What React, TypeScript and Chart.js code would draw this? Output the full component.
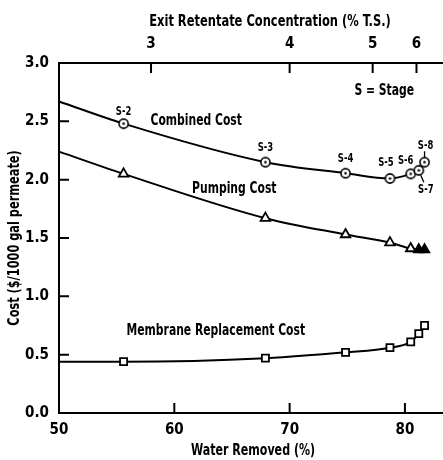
import React, { useEffect, useRef } from 'react';
import { Chart, registerables } from 'chart.js';
Chart.register(...registerables);

// ---- data ----
const waterRemoved = [55.6, 67.9, 74.85, 78.7, 80.5, 81.2, 81.7];
const combinedCost = [2.48, 2.15, 2.055, 2.01, 2.05, 2.08, 2.15];
const pumpingCost = [2.05, 1.67, 1.53, 1.46, 1.41, 1.4, 1.4];
const membraneCost = [0.44, 0.47, 0.52, 0.56, 0.61, 0.68, 0.75];
const stageLabels = ['S-2', 'S-3', 'S-4', 'S-5', 'S-6', 'S-7', 'S-8'];
const pumpingFilled = [false, false, false, false, false, true, true];

// curve values at the left edge (50 % water removed)
const curveStartX = 50;
const combinedStart = 2.67;
const pumpingStart = 2.24;
const membraneStart = 0.44;

const bottomTickValues = [50, 60, 70, 80];
const yTickValues = [0, 0.5, 1.0, 1.5, 2.0, 2.5, 3.0];
const topTickPositions = [57.98, 70.0, 77.2, 81.0]; // in % water removed
const topTickLabels = ['3', '4', '5', '6'];

const xTitle = 'Water Removed (%)';
const x2Title = 'Exit Retentate Concentration (% T.S.)';
const yTitle = 'Cost ($/1000 gal permeate)';

const FONT = '"DejaVu Sans Condensed", "Liberation Sans Narrow", "Liberation Sans", sans-serif';

function circleDot(): HTMLCanvasElement {
  const c = document.createElement('canvas');
  c.width = 13;
  c.height = 13;
  const g = c.getContext('2d')!;
  g.beginPath();
  g.arc(6.5, 6.5, 4.6, 0, Math.PI * 2);
  g.fillStyle = '#fff';
  g.fill();
  g.lineWidth = 1.6;
  g.strokeStyle = '#000';
  g.stroke();
  g.beginPath();
  g.arc(6.5, 6.5, 1.3, 0, Math.PI * 2);
  g.fillStyle = '#000';
  g.fill();
  return c;
}

type Note = { text: string; x: number; y: number; size: number };
const notes: Note[] = [
  { text: 'S = Stage', x: 78.2, y: 2.76, size: 15 },
  { text: 'Combined Cost', x: 61.9, y: 2.5, size: 15 },
  { text: 'Pumping Cost', x: 65.2, y: 1.92, size: 15 },
  { text: 'Membrane Replacement Cost', x: 63.6, y: 0.7, size: 15 },
];
// stage label offsets (in px, relative to the point)
const stageOffsets = [
  [0, -12], [0, -15], [0, -15], [-4, -16], [-5, -13], [7, 19], [1, -17],
];

function drawNarrow(ctx: CanvasRenderingContext2D, text: string, px: number, py: number, sx: number, rot = 0) {
  ctx.save();
  ctx.translate(px, py);
  if (rot) ctx.rotate(rot);
  ctx.scale(sx, 1);
  ctx.fillText(text, 0, 0);
  ctx.restore();
}

const decorPlugin = {
  id: 'decor',
  afterDatasetsDraw(chart: any) {
    const { ctx, scales } = chart;
    const x = scales.x, y = scales.y, x2 = scales.x2;
    const area = chart.chartArea;
    ctx.save();
    ctx.strokeStyle = '#000';
    ctx.lineWidth = 2;
    // inside ticks
    ctx.beginPath();
    yTickValues.forEach((v) => {
      if (v === 0) return;
      const py = y.getPixelForValue(v);
      ctx.moveTo(area.left, py);
      ctx.lineTo(area.left + 10, py);
    });
    bottomTickValues.forEach((v) => {
      if (v === 50) return;
      const px = x.getPixelForValue(v);
      ctx.moveTo(px, area.bottom);
      ctx.lineTo(px, area.bottom - 10);
    });
    topTickPositions.forEach((v) => {
      const px = x2.getPixelForValue(v);
      ctx.moveTo(px, area.top);
      ctx.lineTo(px, area.top + 10);
    });
    ctx.stroke();

    ctx.fillStyle = '#000';
    ctx.textAlign = 'center';
    ctx.textBaseline = 'middle';
    notes.forEach((n) => {
      ctx.font = `bold ${n.size}px ${FONT}`;
      drawNarrow(ctx, n.text, x.getPixelForValue(n.x), y.getPixelForValue(n.y), 0.8);
    });
    // axis titles
    ctx.font = `bold 15px ${FONT}`;
    const cx = (area.left + area.right) / 2;
    drawNarrow(ctx, xTitle, cx + 2, area.bottom + 38, 0.82);
    drawNarrow(ctx, x2Title, cx + 19, area.top - 41, 0.85);
    drawNarrow(ctx, yTitle, 15, (area.top + area.bottom) / 2, 0.84, -Math.PI / 2);

    ctx.font = `bold 13px ${FONT}`;
    stageLabels.forEach((s, i) => {
      const px = x.getPixelForValue(waterRemoved[i]);
      const py = y.getPixelForValue(combinedCost[i]);
      drawNarrow(ctx, s, px + stageOffsets[i][0], py + stageOffsets[i][1], 0.72);
    });
    // leader lines for S-7 and S-8
    ctx.lineWidth = 1.3;
    ctx.beginPath();
    {
      const px = x.getPixelForValue(waterRemoved[6]);
      const py = y.getPixelForValue(combinedCost[6]);
      ctx.moveTo(px, py - 11);
      ctx.lineTo(px, py - 5);
      const qx = x.getPixelForValue(waterRemoved[5]);
      const qy = y.getPixelForValue(combinedCost[5]);
      ctx.moveTo(qx + 5, qy + 12);
      ctx.lineTo(qx + 2, qy + 5);
    }
    ctx.stroke();
    ctx.restore();
  },
};

export default function App() {
  const ref = useRef<HTMLCanvasElement | null>(null);
  useEffect(() => {
    if (!ref.current) return;
    const cd = circleDot();
    const combinedPts = [{ x: curveStartX, y: combinedStart }].concat(
      waterRemoved.map((w, i) => ({ x: w, y: combinedCost[i] }))
    );
    const pumpingPts = [{ x: curveStartX, y: pumpingStart }].concat(
      waterRemoved.map((w, i) => ({ x: w, y: pumpingCost[i] }))
    );
    const membranePts = [{ x: curveStartX, y: membraneStart }].concat(
      waterRemoved.map((w, i) => ({ x: w, y: membraneCost[i] }))
    );
    const zeroFirst = (r: number) => [0].concat(waterRemoved.map(() => r));
    const tickFont = { family: FONT, size: 15, weight: 'bold' };
    const chart = new Chart(ref.current, {
      type: 'line',
      data: {
        datasets: [
          {
            data: combinedPts,
            borderColor: '#000',
            borderWidth: 2,
            cubicInterpolationMode: 'monotone',
            pointStyle: [false as any].concat(waterRemoved.map(() => cd)),
            pointRadius: zeroFirst(5),
          },
          {
            data: pumpingPts,
            borderColor: '#000',
            borderWidth: 2,
            cubicInterpolationMode: 'monotone',
            pointStyle: 'triangle',
            pointRadius: zeroFirst(5.5),
            pointBorderWidth: 1.8,
            pointBorderColor: '#000',
            pointBackgroundColor: ['#fff'].concat(pumpingFilled.map((f) => (f ? '#000' : '#fff'))),
          },
          {
            data: membranePts,
            borderColor: '#000',
            borderWidth: 2,
            cubicInterpolationMode: 'monotone',
            pointStyle: 'rect',
            pointRadius: zeroFirst(5),
            pointBorderWidth: 1.8,
            pointBorderColor: '#000',
            pointBackgroundColor: '#fff',
          },
        ],
      },
      options: {
        animation: false,
        responsive: false,
        layout: { padding: 0, autoPadding: false },
        clip: false,
        plugins: { legend: { display: false }, tooltip: { enabled: false } },
        scales: {
          x: {
            type: 'linear',
            position: 'bottom',
            min: 50,
            max: 83.3,
            grid: { display: false, drawTicks: false },
            border: { display: true, color: '#000', width: 2 },
            afterBuildTicks: (s: any) => {
              s.ticks = bottomTickValues.map((v) => ({ value: v }));
            },
            afterFit: (s: any) => {
              s.height = 47;
              s.paddingLeft = 0;
              s.paddingRight = 0;
            },
            ticks: {
              color: '#000',
              padding: 8,
              maxRotation: 0,
              font: tickFont,
              callback: (v: any) => String(v),
            },
          },
          x2: {
            type: 'linear',
            position: 'top',
            min: 50,
            max: 83.3,
            grid: { display: false, drawTicks: false },
            border: { display: true, color: '#000', width: 2 },
            afterBuildTicks: (s: any) => {
              s.ticks = topTickPositions.map((v) => ({ value: v }));
            },
            afterFit: (s: any) => {
              s.height = 63;
              s.paddingLeft = 0;
              s.paddingRight = 0;
            },
            ticks: {
              color: '#000',
              padding: 10,
              maxRotation: 0,
              font: tickFont,
              callback: (_v: any, i: number) => topTickLabels[i],
            },
          },
          y: {
            type: 'linear',
            position: 'left',
            min: 0,
            max: 3,
            grid: { display: false, drawTicks: false },
            border: { display: true, color: '#000', width: 2 },
            afterBuildTicks: (s: any) => {
              s.ticks = yTickValues.map((v) => ({ value: v }));
            },
            afterFit: (s: any) => {
              s.width = 59;
              s.paddingTop = 0;
              s.paddingBottom = 0;
            },
            ticks: {
              color: '#000',
              padding: 10,
              font: tickFont,
              callback: (v: any) => Number(v).toFixed(1),
            },
          },
        },
      } as any,
      plugins: [decorPlugin],
    });
    return () => chart.destroy();
  }, []);
  return (
    <div style={{ position: 'fixed', left: 0, top: 0, width: 443, height: 460, background: '#fff' }}>
      <canvas ref={ref} width={443} height={460} style={{ display: 'block' }} />
    </div>
  );
}
